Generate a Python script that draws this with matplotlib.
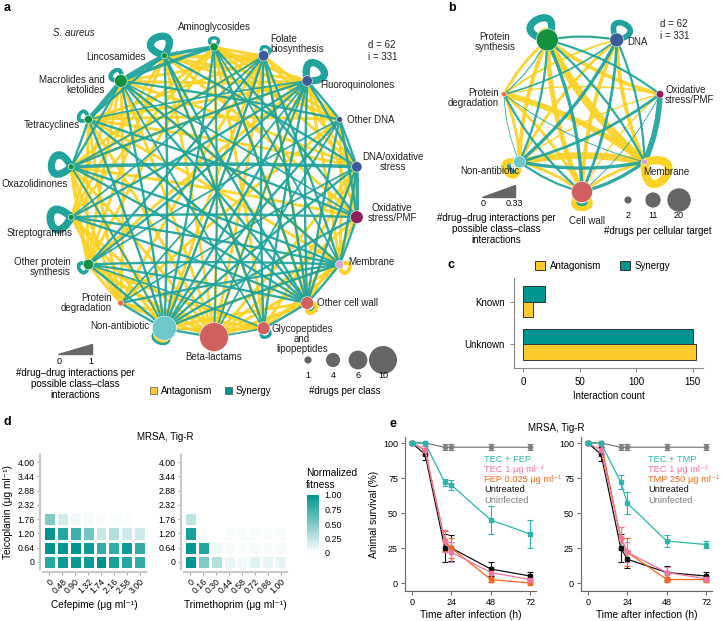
import numpy as np
import matplotlib
matplotlib.use("Agg")
import matplotlib.pyplot as plt
from matplotlib.path import Path
from matplotlib.patches import PathPatch, Circle, Polygon, Rectangle
from matplotlib.colors import LinearSegmentedColormap

plt.rcParams["font.family"] = ["Liberation Sans", "DejaVu Sans"]
plt.rcParams["font.size"] = 7

W, H = 721, 621
YEL = "#fbd226"
TEAL = "#1fa39c"
TXT = "#222222"

# ---------------- data ----------------
# panel a: drug classes, clockwise from the top
classes_a = ["Aminoglycosides", "Folate\nbiosynthesis", "Fluoroquinolones", "Other DNA",
             "DNA/oxidative\nstress", "Oxidative\nstress/PMF", "Membrane", "Other cell wall",
             "Glycopeptides\nand\nlipopeptides", "Beta-lactams", "Non-antibiotic",
             "Protein\ndegradation", "Other protein\nsynthesis", "Streptogramins",
             "Oxazolidinones", "Tetracyclines", "Macrolides and\nketolides", "Lincosamides"]
drugs_a = [2, 3, 3, 1, 3, 4, 2, 4, 4, 11, 9, 1, 3, 1, 1, 2, 4, 1]
target_a = ["ps", "dna", "dna", "dna", "dna", "ox", "mem", "cw", "cw", "cw", "non",
            "deg", "ps", "ps", "ps", "ps", "ps", "ps"]

# (class i, class j, weight)
syn_a = [(16, 17, 4), (16, 0, 3), (17, 0, 3), (16, 15, 4), (15, 17, 2), (16, 14, 2),
         (15, 14, 2), (14, 4, 3), (12, 10, 2), (12, 7, 2), (12, 6, 2), (12, 8, 1.5),
         (13, 7, 2), (13, 6, 2), (14, 7, 2), (14, 10, 1.5), (15, 7, 2), (15, 10, 2),
         (16, 10, 2), (16, 7, 2), (16, 6, 2), (17, 10, 2), (17, 8, 2), (0, 10, 2),
         (0, 7, 2), (0, 9, 1.5), (1, 10, 2), (1, 7, 2), (1, 13, 1.5), (1, 12, 2),
         (2, 10, 2), (2, 12, 2), (2, 13, 2), (2, 11, 1.5), (2, 4, 2), (2, 3, 2),
         (3, 4, 2), (3, 5, 2), (4, 5, 3), (4, 6, 2), (5, 6, 2), (6, 7, 2), (7, 8, 2),
         (8, 9, 1.5), (9, 10, 2), (10, 11, 2), (10, 6, 2), (10, 5, 2), (10, 4, 2),
         (10, 3, 2), (7, 3, 2), (7, 4, 2), (7, 2, 2), (7, 17, 2), (8, 2, 2), (8, 1, 2),
         (8, 16, 1.5), (9, 2, 1.5), (9, 3, 1.5), (11, 6, 2), (11, 4, 1.5), (12, 3, 1.5),
         (13, 5, 2), (14, 6, 2), (14, 2, 2), (15, 2, 1.5), (15, 5, 2), (16, 3, 2),
         (16, 5, 1.5), (17, 4, 2), (0, 5, 2), (0, 6, 1.5), (1, 6, 2), (1, 14, 1.5)]
ant_a = [(17, 1, 4), (16, 1, 3), (16, 2, 3), (17, 2, 3), (0, 2, 3), (0, 1, 3), (15, 1, 3),
         (15, 2, 3), (14, 1, 3), (14, 0, 3), (14, 12, 4), (14, 11, 3), (13, 11, 3),
         (12, 9, 4), (12, 11, 3), (11, 9, 3), (11, 8, 3), (10, 8, 3), (9, 7, 4), (9, 6, 3),
         (9, 5, 3), (9, 4, 3), (9, 1, 3), (9, 0, 3), (9, 16, 3), (9, 15, 3), (9, 14, 3),
         (9, 17, 3), (8, 0, 3), (8, 17, 3), (8, 6, 3), (7, 5, 3), (7, 1, 3), (7, 0, 3),
         (7, 10, 3), (6, 4, 3), (6, 3, 3), (6, 2, 3), (6, 16, 3), (6, 15, 3), (5, 3, 3),
         (5, 2, 3), (5, 14, 3), (5, 17, 3), (4, 1, 3), (4, 0, 3), (4, 15, 3), (4, 16, 3),
         (4, 7, 3), (3, 1, 3), (3, 0, 3), (3, 17, 3), (3, 15, 3), (3, 11, 3), (2, 14, 3),
         (2, 12, 3), (2, 9, 3), (1, 11, 3), (1, 10, 3), (0, 12, 3), (0, 13, 3), (17, 12, 3),
         (17, 13, 3), (16, 13, 3), (16, 12, 3), (15, 12, 3), (15, 11, 3), (10, 14, 3),
         (10, 13, 3), (10, 1, 2), (11, 16, 3), (12, 8, 3), (13, 9, 3), (6, 10, 3), (8, 4, 3)]
# self interactions: (class, kind, strength)
loops_a = [(17, "s", 3), (0, "s", 1), (1, "s", 1), (2, "s", 3), (16, "s", 1.5),
           (15, "s", 1.2), (14, "s", 3), (13, "s", 3.2), (12, "s", 1.2), (10, "s", 2),
           (10, "a", 1.6), (9, "a", 1.6), (8, "s", 1), (7, "s", 1), (7, "a", 1.3),
           (6, "a", 1.3)]

# panel b: cellular targets
classes_b = ["Protein\nsynthesis", "DNA", "Oxidative\nstress/PMF", "Membrane",
             "Cell wall", "Non-antibiotic", "Protein\ndegradation"]
drugs_b = [20, 11, 4, 2, 19, 9, 1]
target_b = ["ps", "dna", "ox", "mem", "cw", "non", "deg"]
syn_b = [(0, 1, 2), (0, 2, 2), (0, 4, 3), (0, 5, 2), (0, 6, 1), (1, 5, 3), (1, 4, 2.5),
         (1, 6, 1.5), (1, 3, 2), (2, 3, 5), (2, 5, 2.5), (3, 4, 3), (3, 5, 3), (4, 5, 2),
         (4, 6, 2), (5, 6, 0.7), (0, 3, 2), (2, 4, 0.8), (3, 6, 0.8)]
ant_b = [(0, 3, 8), (0, 4, 5), (0, 5, 4), (0, 6, 3), (0, 2, 4), (1, 4, 4), (1, 5, 3),
         (1, 6, 2), (1, 3, 4), (2, 5, 1.5), (2, 6, 1.5), (3, 5, 7), (3, 6, 6), (3, 4, 3),
         (4, 5, 3), (4, 6, 3), (5, 6, 3), (1, 0, 1.5), (2, 4, 1.5)]
loops_b = [(0, "s", 3), (0, "a", 1), (1, "s", 2.2), (5, "s", 1.2), (5, "a", 2),
           (3, "a", 3.5), (4, "s", 1.5), (4, "a", 2)]

# panel c
known = ["Known", "Unknown"]
antagonism_c = [9, 153]
synergy_c = [19, 150]

# panel d
teic = ["0", "0.64", "1.20", "1.76", "2.32", "2.88", "3.44", "4.00"]
cefepime = ["0", "0.48", "0.90", "1.32", "1.74", "2.16", "2.58", "3.00"]
trimeth = ["0", "0.16", "0.30", "0.44", "0.58", "0.72", "0.86", "1.00"]
nan = np.nan
fit_fep = [[0.85, 0.95, 0.95, 0.95, 1.00, 0.90, 0.85, 0.80],
           [1.00, 1.00, 1.00, 0.95, 0.80, 0.80, 0.95, 0.80],
           [1.00, 0.85, 0.75, 0.55, 0.22, 0.30, 0.20, 0.20],
           [0.50, 0.18, 0.06, 0.04, 0.03, 0.02, 0.02, nan],
           [nan] * 8, [nan] * 8, [nan] * 8, [nan] * 8]
fit_tmp = [[1.00, 0.50, 0.30, 0.08, 0.05, 0.12, 0.10, 0.10],
           [1.00, 0.85, 0.06, 0.04, 0.03, 0.04, 0.04, 0.04],
           [0.90, 0.00, 0.00, 0.03, 0.03, 0.03, 0.03, 0.03],
           [0.25, nan, nan, nan, nan, nan, nan, nan],
           [nan] * 8, [nan] * 8, [nan] * 8, [nan] * 8]

# panel e
hours = [0, 8, 20, 24, 48, 72]
surv_fep = {
    "TEC + FEP": ([100, 100, 72, 70, 45, 35], [0, 0, 2.5, 3.5, 10, 10]),
    "TEC 1 μg ml⁻¹": ([100, 95, 30, 22, 7.5, 2.5], [0, 3, 8, 7, 4, 2]),
    "FEP 0.025 μg ml⁻¹": ([100, 95, 30, 25, 2.5, 0], [0, 3, 7, 7, 2, 1]),
    "Untreated": ([100, 92, 25, 25, 10, 5], [0, 4, 10, 9, 5, 3]),
    "Uninfected": ([100, 100, 97, 97, 97, 97], [0, 0, 2, 2, 2, 2]),
}
surv_tmp = {
    "TEC + TMP": ([100, 100, 72, 57, 30, 27.5], [0, 0, 5, 8, 4, 2.5]),
    "TEC 1 μg ml⁻¹": ([100, 95, 32, 22, 7.5, 3], [0, 3, 8, 7, 4, 2]),
    "TMP 250 μg ml⁻¹": ([100, 100, 32, 22, 2.5, 2.5], [0, 0, 8, 10, 2, 2]),
    "Untreated": ([100, 92, 25, 17, 7.5, 5], [0, 5, 10, 6, 5, 3]),
    "Uninfected": ([100, 100, 97, 97, 97, 97], [0, 0, 2, 2, 2, 2]),
}
surv_colors = ["#2bb5ae", "#f4739f", "#f8661c", "#111111", "#7f7f7f"]

node_color = {"ps": "#13913f", "dna": "#3b5a9a", "ox": "#8e1f5e", "mem": "#d9a3d3",
              "cw": "#d0615f", "non": "#6cc8ca", "deg": "#ea6a3f"}

# ---------------- figure ----------------
fig = plt.figure(figsize=(W / 100, H / 100), dpi=100)
net = fig.add_axes([0, 0, 1, 1])
net.set_xlim(0, W)
net.set_ylim(H, 0)
net.axis("off")
net.set_zorder(10)
net.patch.set_visible(False)


def px_axes(x0, y0, x1, y1):
    ax = fig.add_axes([x0 / W, 1 - y1 / H, (x1 - x0) / W, (y1 - y0) / H])
    ax.patch.set_visible(False)
    return ax


def edge(ax, p, q, color, lw, bend, z=1):
    mid = (p + q) / 2
    d = q - p
    ctrl = mid + bend * np.array([-d[1], d[0]])
    path = Path([p, ctrl, q], [Path.MOVETO, Path.CURVE3, Path.CURVE3])
    ax.add_patch(PathPatch(path, fc="none", ec=color, lw=lw, alpha=0.92,
                           capstyle="round", zorder=z))


def rot(u, deg):
    a = np.deg2rad(deg)
    return np.array([u[0] * np.cos(a) - u[1] * np.sin(a), u[0] * np.sin(a) + u[1] * np.cos(a)])


def loop(ax, p, u, size, color, lw, spread=52):
    c1 = p + size * rot(u, spread)
    c2 = p + size * rot(u, -spread)
    path = Path([p, c1, c2, p], [Path.MOVETO, Path.CURVE4, Path.CURVE4, Path.CURVE4])
    ax.add_patch(PathPatch(path, fc="none", ec=color, lw=lw, zorder=2))


def network(ax, center, radius, angles, counts, targets, syn, ant, loops, rfun, bend,
            wscale, loopsize):
    c = np.array(center, float)
    pos = [c + radius * np.array([np.cos(np.deg2rad(a)), -np.sin(np.deg2rad(a))])
           for a in angles]
    for i, j, w in ant:
        edge(ax, pos[i], pos[j], YEL, w * wscale[0], bend)
    for i, j, w in syn:
        edge(ax, pos[i], pos[j], TEAL, w * wscale[1], -bend, z=1.1)
    for k, kind, s in loops:
        u = (pos[k] - c) / np.linalg.norm(pos[k] - c)
        col = TEAL if kind == "s" else YEL
        loop(ax, pos[k], u, loopsize * (0.4 + 0.55 * s), col, 1.0 + 1.4 * s)
    for k, n in enumerate(counts):
        ax.add_patch(Circle(pos[k], rfun(n), fc=node_color[targets[k]], ec="white",
                            lw=0.4, zorder=4))
    return pos


# panel a network
ang_a = [90 - 20 * k for k in range(18)]
pos_a = network(net, (214, 192), 145, ang_a, drugs_a, target_a, syn_a, ant_a, loops_a,
                lambda n: 1.8 + 1.15 * n, 0.02, (0.7, 0.85), 21)

lab_a = [(214, 27, "center"), (270, 44, "left"), (320, 85, "left"), (347, 120, "left"),
         (393, 162, "center"), (392, 213, "center"), (348, 262, "left"),
         (317, 303, "left"), (302, 339, "center"), (214, 357, "center"),
         (149, 326, "right"), (112, 303, "right"), (71, 267, "right"), (40, 233, "center"),
         (35, 184, "center"), (80, 125, "right"), (105, 85, "right"), (146, 57, "right")]
for name, (x, y, ha) in zip(classes_a, lab_a):
    net.text(x, y, name, ha=ha, va="center", fontsize=7, color=TXT,
             linespacing=1.05, zorder=5, multialignment=ha if ha != "center" else "center")

net.text(53, 33, "S. aureus", style="italic", fontsize=7, color=TXT, va="center")
net.text(368, 51, "d = 62\ni = 331", fontsize=7, color=TXT, va="center", linespacing=1.3)

# panel a legends
net.add_patch(Polygon([(58, 354), (92, 354), (92, 344)], color="#666666"))
net.text(59, 361, "0", ha="center", va="center", fontsize=6.5)
net.text(91, 361, "1", ha="center", va="center", fontsize=6.5)
net.text(75, 384, "#drug–drug interactions per\npossible class–class\ninteractions",
         ha="center", va="center", fontsize=7, linespacing=1.15)
for x, lab, col in [(154, "Antagonism", "#fdcb2e"), (229, "Synergy", "#00968f")]:
    net.add_patch(Rectangle((x - 4, 387), 7, 7, fc=col, ec="#555555", lw=0.5))
    net.text(x + 7, 391, lab, va="center", fontsize=7)
for x, n in zip([308, 333, 358, 383], [1, 4, 6, 10]):
    net.add_patch(Circle((x, 360), 1.8 + 1.15 * n, color="#666666"))
    net.text(x, 376, str(n), ha="center", va="center", fontsize=6.5)
net.text(345, 391, "#drugs per class", ha="center", va="center", fontsize=7)

# panel b network
ang_b = [115.7 - 51.43 * k for k in range(7)]
pos_b = network(net, (582, 112), 80, ang_b, drugs_b, target_b, syn_b, ant_b, loops_b,
                lambda n: 2 + 0.45 * n, 0.1, (0.7, 0.8), 24)
lab_b = [(495, 42, "center"), (627, 42, "left"), (665, 95, "left"), (666, 172, "center"),
         (587, 221, "center"), (490, 171, "center"), (499, 98, "right")]
for name, (x, y, ha) in zip(classes_b, lab_b):
    net.text(x, y, name, ha=ha, va="center", fontsize=7, color=TXT, linespacing=1.05,
             zorder=5, multialignment=ha if ha != "center" else "center")
net.text(660, 30, "d = 62\ni = 331", fontsize=7, color=TXT, va="center", linespacing=1.3)
net.add_patch(Polygon([(482, 197), (515, 197), (515, 185)], color="#666666"))
net.text(483, 203, "0", ha="center", va="center", fontsize=6.5)
net.text(514, 203, "0.33", ha="center", va="center", fontsize=6.5)
net.text(496, 229, "#drug–drug interactions per\npossible class–class\ninteractions",
         ha="center", va="center", fontsize=7, linespacing=1.15)
for x, n in zip([628, 653, 679], [2, 11, 20]):
    net.add_patch(Circle((x, 200), 2 + 0.45 * n, color="#666666"))
    net.text(x, 216, str(n), ha="center", va="center", fontsize=6.5)
net.text(658, 231, "#drugs per cellular target", ha="center", va="center", fontsize=7)

# panel labels
for x, y, s in [(4, 8, "a"), (448, 8, "b"), (448, 265, "c"), (4, 422, "d"), (390, 424, "e")]:
    net.text(x, y, s, fontsize=9, fontweight="bold", va="center")

# ---------------- panel c ----------------
axc = px_axes(514, 278, 703, 368)
yy = np.arange(len(known))
axc.barh(yy - 0.18, synergy_c, height=0.36, color="#00968f", ec="#333333", lw=0.7,
         label="Synergy")
axc.barh(yy + 0.18, antagonism_c, height=0.36, color="#fdcb2e", ec="#333333", lw=0.7,
         label="Antagonism")
axc.set_yticks(yy)
axc.set_yticklabels(known)
axc.set_ylim(1.55, -0.55)
axc.set_xlim(-8, 159)
axc.set_xticks([0, 50, 100, 150])
axc.set_xlabel("Interaction count", fontsize=7, labelpad=3)
for s in ["top", "right"]:
    axc.spines[s].set_visible(False)
for s in ["left", "bottom"]:
    axc.spines[s].set_color("#888888")
    axc.spines[s].set_linewidth(0.8)
axc.tick_params(labelsize=7, length=3, color="#888888", width=0.7)
h, l = axc.get_legend_handles_labels()
axc.legend(h[::-1], l[::-1], ncol=2, frameon=False, fontsize=7, loc="lower center",
           bbox_to_anchor=(0.47, 0.98), handlelength=1, handleheight=1, columnspacing=2,
           handletextpad=0.5)

# ---------------- panel d ----------------
cmap = LinearSegmentedColormap.from_list("fit", ["#ffffff", "#00968f"])
for (x0, x1), vals, xt, xl, show_y in [((43, 146), fit_fep, cefepime, "Cefepime (μg ml⁻¹)", True),
                                       ((184, 287), fit_tmp, trimeth, "Trimethoprim (μg ml⁻¹)", False)]:
    ax = px_axes(x0, 455, x1, 569)
    for s in ["top", "right"]:
        ax.spines[s].set_visible(False)
    for s in ["left", "bottom"]:
        ax.spines[s].set_color("#c8c8c8")
        ax.spines[s].set_linewidth(1.6)
        ax.spines[s].set_position(("outward", 2))
    m = np.ma.masked_invalid(np.array(vals, float))
    ax.pcolormesh(np.arange(9) - 0.5, np.arange(9) - 0.5, m, cmap=cmap, vmin=0, vmax=1,
                  edgecolors="white", linewidth=1.0)
    ax.set_xlim(-0.5, 7.5)
    ax.set_ylim(-0.5, 7.5)
    ax.set_xticks(range(8))
    ax.set_yticks(range(8))
    ax.tick_params(labelsize=6.3, length=2.5, color="#aaaaaa", pad=1.5)
    ax.set_xticklabels(xt, rotation=45, ha="right", rotation_mode="anchor")
    ax.set_yticklabels(teic)
    ax.set_xlabel(xl, fontsize=7.3, labelpad=3)
    if show_y:
        ax.set_ylabel("Teicoplanin (μg ml⁻¹)", fontsize=7.3, labelpad=3)
net.text(165, 437, "MRSA, Tig-R", ha="center", va="center", fontsize=7)

cax = px_axes(307, 495, 319, 553)
cax.imshow(np.linspace(1, 0, 100)[:, None], aspect="auto", cmap=cmap, vmin=0, vmax=1,
           extent=[0, 1, 0, 1])
cax.set_xticks([])
cax.yaxis.tick_right()
cax.set_yticks([1, 0.75, 0.5, 0.25, 0])
cax.set_yticklabels(["1.00", "0.75", "0.50", "0.25", "0"])
cax.tick_params(labelsize=6.5, length=2, color="white", pad=2)
for s in cax.spines.values():
    s.set_visible(False)
net.text(306, 479, "Normalized\nfitness", fontsize=7.3, va="center", linespacing=1.2)

# ---------------- panel e ----------------
for (x0, x1), data, tx in [((405, 536), surv_fep, 484), ((581, 712), surv_tmp, 648)]:
    ax = px_axes(x0, 437, x1, 591)
    for (lab, (y, e)), col in list(zip(data.items(), surv_colors))[::-1]:
        ax.errorbar(hours, y, yerr=e, color=col, marker="s" if col != "#7f7f7f" else "o",
                    ms=3, lw=0.9, elinewidth=0.8, capsize=2, capthick=0.8)
    for i, (lab, col) in enumerate(zip(data.keys(), surv_colors)):
        net.text(tx, 459 + i * 10.3, lab, color=col, fontsize=6.7, va="center")
    ax.set_xlim(-4.2, 75.5)
    ax.set_ylim(-5.7, 104.3)
    ax.set_xticks([0, 24, 48, 72])
    ax.set_yticks([0, 25, 50, 75, 100])
    ax.set_xlabel("Time after infection (h)", fontsize=7.3, labelpad=2)
    if x0 < 500:
        ax.set_ylabel("Animal survival (%)", fontsize=7.3, labelpad=3)
    for s in ["top", "right"]:
        ax.spines[s].set_visible(False)
    for s in ["left", "bottom"]:
        ax.spines[s].set_color("#666666")
        ax.spines[s].set_linewidth(0.8)
    ax.tick_params(labelsize=6.5, length=3, color="#666666", width=0.7, pad=2)
net.text(556, 428, "MRSA, Tig-R", ha="center", va="center", fontsize=7)

fig.savefig("out.png", dpi=100)
